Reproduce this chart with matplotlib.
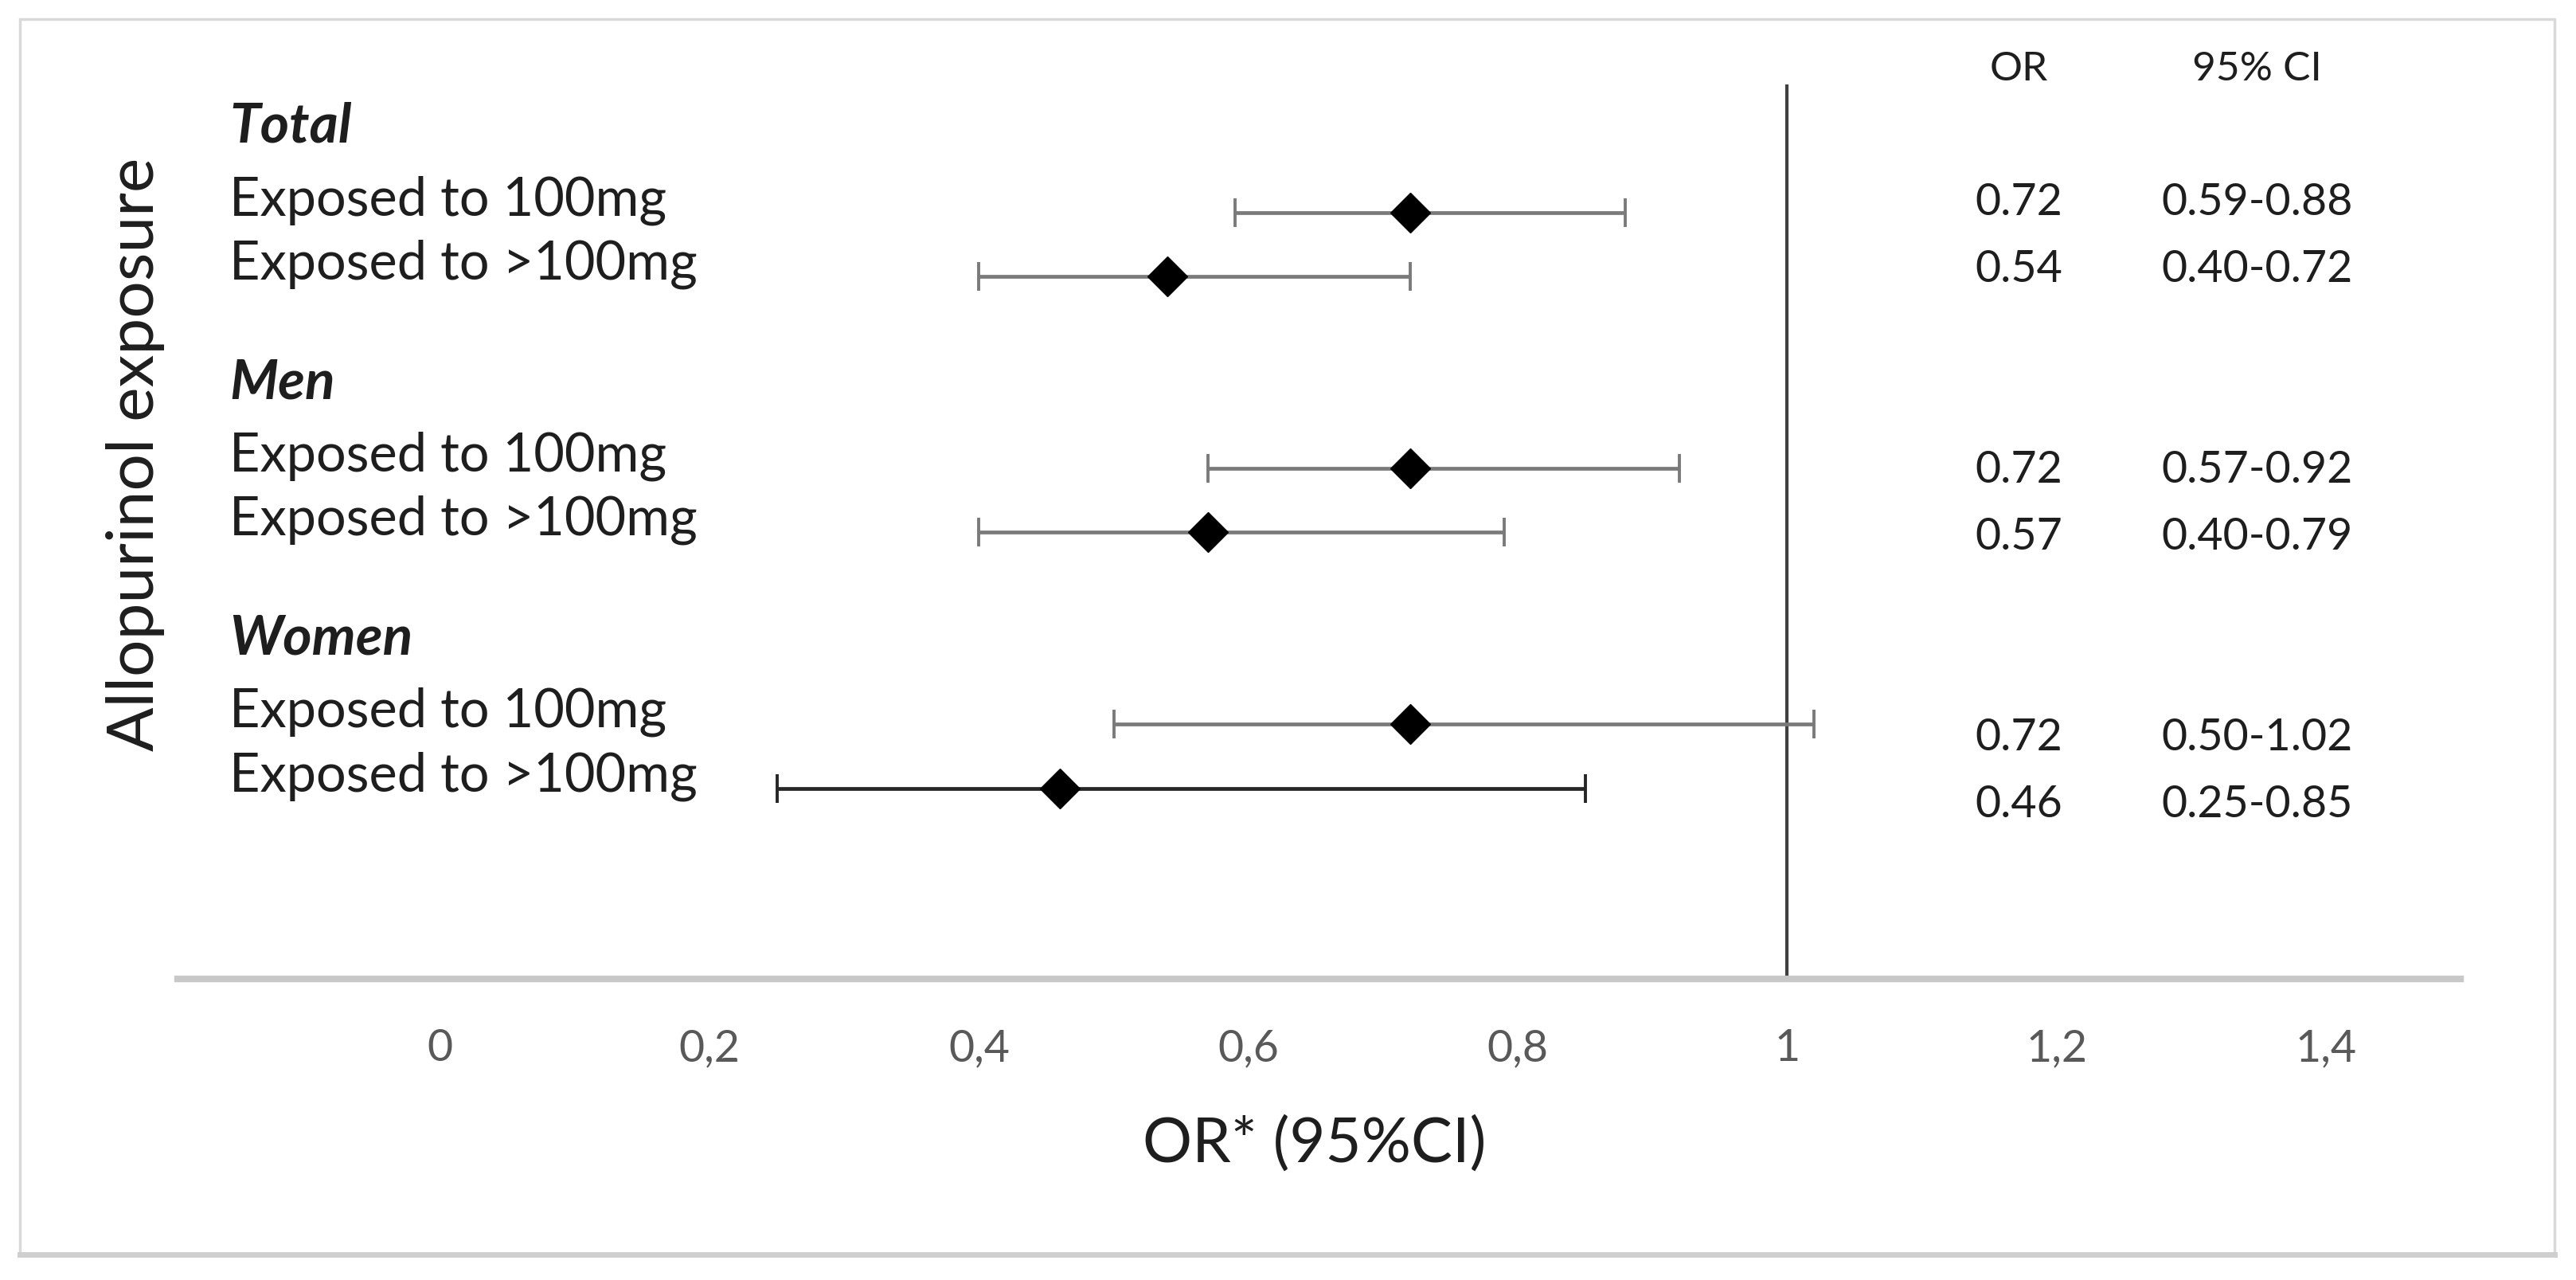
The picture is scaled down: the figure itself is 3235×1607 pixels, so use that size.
import numpy as np
import matplotlib
matplotlib.use('Agg')
import matplotlib.pyplot as plt
from matplotlib.patches import Rectangle
from matplotlib.transforms import blended_transform_factory

plt.rcParams['font.family'] = ['Lato', 'DejaVu Sans']

# data
groups = ['Total', 'Men', 'Women']
labels = ['Exposed to 100mg', 'Exposed to >100mg']
odds = [0.72, 0.54, 0.72, 0.57, 0.72, 0.46]
ci_low = [0.59, 0.40, 0.57, 0.40, 0.50, 0.25]
ci_high = [0.88, 0.72, 0.92, 0.79, 1.02, 0.85]
or_text = ['0.72', '0.54', '0.72', '0.57', '0.72', '0.46']
ci_text = ['0.59-0.88', '0.40-0.72', '0.57-0.92', '0.40-0.79', '0.50-1.02', '0.25-0.85']
xticks = [0, 0.2, 0.4, 0.6, 0.8, 1, 1.2, 1.4]
xtick_labels = ['0', '0,2', '0,4', '0,6', '0,8', '1', '1,2', '1,4']

# row positions (2 rows per group, gap of 2 rows between groups)
rows = []
for g in range(len(groups)):
    rows += [g * 4, g * 4 + 1]
rows = np.array(rows)

W, H = 3235, 1608
fig = plt.figure(figsize=(W / 100, H / 100), dpi=100)
ax = fig.add_axes([223 / W, 1 - 1230 / H, (3090 - 223) / W, (1230 - 107) / H])
ax.set_xlim(-0.195, 1.5)
ax.set_ylim(11.98, -2.0)

txt = '#1e1e1e'
for i, r in enumerate(rows):
    col = '#262626' if i == len(rows) - 1 else '#7a7a7a'
    ax.errorbar(odds[i], r, xerr=[[odds[i] - ci_low[i]], [ci_high[i] - odds[i]]],
                fmt='none', ecolor=col, elinewidth=3.4, capsize=13, capthick=2.8, zorder=2)
ax.plot(odds, rows, 'D', color='black', markersize=25, linestyle='none', zorder=3)

ax.axvline(1, color='#404040', lw=3, zorder=1)

for s in ['top', 'right', 'left']:
    ax.spines[s].set_visible(False)
ax.spines['bottom'].set_color('#c8c8c8')
ax.spines['bottom'].set_linewidth(6)
ax.set_yticks([])
ax.set_xticks(xticks)
ax.set_xticklabels(xtick_labels)
ax.tick_params(axis='x', length=0, pad=44, labelsize=40, labelcolor='#595959')

# row labels and group headers
tr = blended_transform_factory(fig.transFigure, ax.transData)
lx = 288 / W
for g, name in enumerate(groups):
    ax.text(lx, g * 4 - 1.35, name, transform=tr, fontsize=50, fontweight='bold',
            fontstyle='italic', color=txt, va='center', ha='left', clip_on=False)
    for k in range(2):
        ax.text(lx, g * 4 + k - 0.2, labels[k], transform=tr, fontsize=48,
                color=txt, va='center', ha='left', clip_on=False)

# OR / CI table on the right
or_x, ci_x = 1.172, 1.349
ax.text(or_x, -2.25, 'OR', fontsize=37, color=txt, ha='center', va='center', clip_on=False)
ax.text(ci_x, -2.25, '95% CI', fontsize=37, color=txt, ha='center', va='center', clip_on=False)
for i, r in enumerate(rows):
    ty = r * 1.047 - 0.17
    ax.text(or_x, ty, or_text[i], fontsize=40, color=txt, ha='center', va='center')
    ax.text(ci_x, ty, ci_text[i], fontsize=40, color=txt, ha='center', va='center')

fig.text(170 / W, 1 - 570 / H, 'Allopurinol exposure', rotation=90, fontsize=59,
         color=txt, ha='center', va='center')
fig.text(1651 / W, 1 - 1437 / H, 'OR* (95%CI)', fontsize=56, color=txt,
         ha='center', va='center')

# outer frame
fig.patches.append(Rectangle((25 / W, 1 - 1576 / H), 3183 / W, 1551 / H, fill=False,
                             edgecolor='#d9d9d9', lw=2.5, transform=fig.transFigure))
fig.lines.append(plt.Line2D([25 / W, 3208 / W], [1 - 1576 / H, 1 - 1576 / H],
                            color='#cfcfcf', lw=5, transform=fig.transFigure))

fig.savefig('out.png', dpi=100, facecolor='white')
